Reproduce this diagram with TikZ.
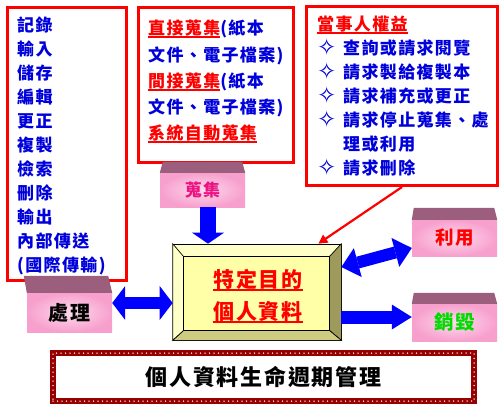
\documentclass[tikz,border=0pt]{standalone}
\usepackage{fontspec}
\usetikzlibrary{arrows.meta}
\setmainfont{Noto Sans CJK TC}[LetterSpace=8]
\newfontfamily\djv{DejaVu Sans}
\definecolor{txtblue}{RGB}{0,0,220}
\definecolor{mauve}{RGB}{155,94,125}
\definecolor{pinkout}{RGB}{247,160,205}
\definecolor{pinkin}{RGB}{255,218,238}
\definecolor{collectpink}{RGB}{235,20,130}
\definecolor{destroygreen}{RGB}{0,220,0}
\definecolor{beadred}{RGB}{150,0,0}
\definecolor{bevlight}{RGB}{255,255,200}
\definecolor{bevface}{RGB}{255,255,168}
\definecolor{bevright}{RGB}{158,154,92}
\definecolor{bevbottom}{RGB}{205,204,128}
\definecolor{arrowblue}{RGB}{0,0,255}
\newsavebox\ulbox
\newcommand\ru[1]{\sbox\ulbox{\color{red}#1}{\color{red}\rlap{\rule[-3.6pt]{\wd\ulbox}{2.2pt}}}\usebox\ulbox}
\newcommand\dm{\makebox[26pt][l]{\smash{\raisebox{-0.5pt}{\djv\fontsize{23}{23}\selectfont ✧}}}}
\newcommand\lidtop[4]{%
  \fill[topface] (#1.north west) -- ([xshift=#3,yshift=#2]#1.north west)
    -- ([xshift=-#4,yshift=#2]#1.north east) -- (#1.north east) -- cycle;}
\tikzset{
  redbox/.style={draw=red, line width=3pt, inner sep=0pt, anchor=north west},
  listtext/.style={anchor=north west, align=left, inner sep=0pt, text=txtblue,
    font=\fontsize{17}{24}\selectfont\bfseries},
  frontface/.style={inner sep=0pt, inner color=pinkin, outer color=pinkout,
    minimum width=85pt, font=\fontsize{17}{18}\selectfont\bfseries},
  topface/.style={fill=mauve},
  bluearrow/.style={draw=arrowblue},
  bev/.style={draw=black, line width=0.7pt},
}
\begin{document}
\begin{tikzpicture}[x=1pt,y=-1pt]
\useasboundingbox (0,0) rectangle (503,407);
\fill[white] (0,0) rectangle (503,407);

% left box: processing steps
\node[redbox, minimum width=119pt, minimum height=273pt] (procbox) at (5.5,5.5) {};
\node[listtext] (proclist) at (17,17) {記錄\\輸入\\儲存\\編輯\\更正\\複製\\檢索\\刪除\\輸出\\內部傳送\\(國際傳輸)};

% middle box: collection
\node[redbox, minimum width=155pt, minimum height=155pt] (collbox) at (137,6) {};
\node[listtext, font=\fontsize{17}{26.2}\selectfont\bfseries] (colllist) at (148,20)
  {\ru{直接蒐集}(紙本\\文件、電子檔案)\\\ru{間接蒐集}(紙本\\文件、電子檔案)\\\ru{系統自動蒐集}};

% right box: rights
\node[redbox, minimum width=191pt, minimum height=179pt] (rightbox) at (305,5) {};
\node[listtext] (rightlist) at (317,16)
  {\ru{當事人權益}\\\dm 查詢或請求閱覽\\\dm 請求製給複製本\\\dm 請求補充或更正\\\dm 請求停止蒐集、處\\\makebox[26pt]{}理或利用\\\dm 請求刪除};

% 3D labels
\node[frontface, minimum height=34pt, text=collectpink] (collect) at (202.5,190) {蒐集};
\lidtop{collect}{11pt}{3pt}{3pt}
\node[frontface, minimum height=39pt, text=black, font=\fontsize{20}{20}\selectfont\bfseries] (proc) at (69.5,312.5) {處理};
\lidtop{proc}{17pt}{-3pt}{4pt}
\node[frontface, minimum height=36pt, text=red, font=\fontsize{18.5}{20}\selectfont\bfseries] (use) at (454.5,238) {利用};
\lidtop{use}{12pt}{2pt}{3pt}
\node[frontface, minimum height=37pt, text=destroygreen, font=\fontsize{19.5}{20}\selectfont\bfseries] (destroy) at (454.5,322.5) {銷毀};
\lidtop{destroy}{11pt}{2pt}{3pt}

% central bevelled box
\node[bev, fill=bevlight, minimum width=168pt, minimum height=96pt, inner sep=0pt] (core) at (257,292) {};
\coordinate (inw) at ([xshift=11pt,yshift=-13pt]core.north west);
\coordinate (ine) at ([xshift=-12pt,yshift=-13pt]core.north east);
\coordinate (isw) at ([xshift=11pt,yshift=10pt]core.south west);
\coordinate (ise) at ([xshift=-12pt,yshift=10pt]core.south east);
\filldraw[bev, fill=bevright] (core.north east) -- (core.south east) -- (ise) -- (ine) -- cycle;
\filldraw[bev, fill=bevbottom] (core.south west) -- (isw) -- (ise) -- (core.south east) -- cycle;
\filldraw[bev, fill=bevlight] (core.north west) -- (inw) -- (isw) -- (core.south west) -- cycle;
\filldraw[bev, fill=bevface] (inw) rectangle (ise);
\node[align=center, inner sep=0pt, font=\fontsize{21}{32}\selectfont\bfseries] (coretext) at ([xshift=1pt,yshift=-4pt]core.center)
  {\ru{特定目的}\\\ru{個人資料}};

% connectors
\draw[bluearrow, line width=16pt, -{Triangle[length=11pt,width=32pt,line width=0pt]}]
  ([xshift=5.5pt]collect.south) -- ([xshift=5.5pt]collect.south |- core.north);
\draw[bluearrow, line width=12pt, {Triangle[length=13pt,width=34pt,line width=0pt]}-{Triangle[length=13pt,width=34pt,line width=0pt]}]
  ([yshift=9.5pt]proc.east) -- ([yshift=-11pt]core.west);
\draw[bluearrow, line width=12pt, {Triangle[length=17pt,width=30pt,line width=0pt]}-{Triangle[length=17pt,width=30pt,line width=0pt]}]
  ([yshift=25pt]core.east) -- ([yshift=-10pt]use.west);
\draw[bluearrow, line width=13pt, -{Triangle[length=20pt,width=25pt,line width=0pt]}]
  ([yshift=-25pt]core.east) -- ([yshift=5.5pt]destroy.west);
\draw[red, line width=2.2pt, -{Triangle[length=9pt,width=9pt]}]
  (rightbox.south) -- ([xshift=-23pt]core.north east);

% title
\node[draw=beadred, line width=5.5pt, minimum width=421pt, minimum height=48pt, inner sep=0pt,
  postaction={draw=white, line width=1.5pt, dash pattern=on 0pt off 4.5pt, line cap=round},
  font=\fontsize{22}{24}\selectfont\bfseries] (title) at (263.5,377) {個人資料生命週期管理};
\end{tikzpicture}
\end{document}
